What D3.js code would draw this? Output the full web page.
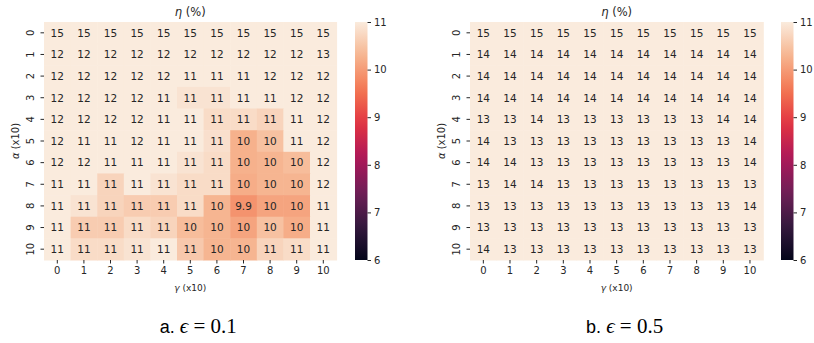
<!DOCTYPE html>
<html>
<head>
<meta charset="utf-8">
<script src="https://cdn.jsdelivr.net/npm/d3@7"></script>
<style>
  body { margin: 0; background: #fff; }
  svg { display: block; font-family: "DejaVu Sans", sans-serif; }
  .serif { font-family: "Liberation Serif", "DejaVu Serif", serif; }
</style>
</head>
<body>
<div id="chart"></div>
<script>
// grid labels (alpha rows, gamma columns, both x10)
const alphaLabels = d3.range(0, 11);
const gammaLabels = d3.range(0, 11);
const cbarTicks = [6, 7, 8, 9, 10, 11];

// eta (%) for epsilon = 0.1, estimated from cell text + colour
const etaA = [
  [15, 15, 15, 15, 15, 15, 15, 15, 15, 15, 15],
  [12, 12, 12, 12, 12, 12, 12, 12, 12, 12, 13],
  [12, 12, 12, 12, 12, 11.2, 11.1, 11.1, 11.6, 11.7, 12],
  [12, 12, 12, 12, 11.2, 10.9, 10.9, 11.1, 11.2, 11.6, 12],
  [12, 12, 12, 12, 11.1, 11.0, 10.8, 10.8, 10.7, 11.2, 12],
  [12, 11.3, 11.3, 12, 11.2, 11.1, 10.85, 10.25, 10.45, 11.2, 12],
  [12, 12, 11.1, 11.1, 11.1, 10.9, 10.8, 10.25, 10.3, 10.4, 12],
  [11.1, 11.1, 10.7, 11.1, 10.9, 10.8, 10.8, 10.2, 10.3, 10.3, 12],
  [11.1, 10.9, 10.7, 10.6, 10.6, 10.8, 10.3, 9.9, 10.1, 10.1, 11.2],
  [11.1, 10.6, 10.6, 10.8, 10.7, 10.4, 10.3, 10.1, 10.45, 10.2, 11.1],
  [11.1, 10.8, 10.8, 10.9, 11.0, 10.55, 10.3, 10.3, 10.7, 10.8, 11.1]
];

// eta (%) for epsilon = 0.5
const etaB = [
  [15, 15, 15, 15, 15, 15, 15, 15, 15, 15, 15],
  [14, 14, 14, 14, 14, 14, 14, 14, 14, 14, 14],
  [14, 14, 14, 14, 14, 14, 14, 14, 14, 14, 14],
  [14, 14, 14, 14, 14, 14, 14, 14, 14, 14, 14],
  [13, 13, 14, 13, 13, 13, 13, 13, 13, 14, 14],
  [14, 13, 13, 13, 13, 13, 13, 13, 13, 13, 14],
  [14, 14, 13, 13, 13, 13, 13, 13, 13, 13, 14],
  [13, 14, 14, 13, 13, 13, 13, 13, 13, 13, 13],
  [13, 13, 13, 13, 13, 13, 13, 13, 13, 13, 14],
  [13, 13, 13, 13, 13, 13, 13, 13, 13, 13, 13],
  [14, 13, 13, 13, 13, 13, 13, 13, 13, 13, 13]
];

const width = 814;
const height = 343;

// seaborn "rocket" colormap stops
const rocketStops = [0, 1/7, 2/7, 3/7, 4/7, 5/7, 6/7, 1];
const rocketColors = ["#03051a", "#35193e", "#701f57", "#ad1759", "#e13342", "#f37651", "#f6b48f", "#faebdd"];
const rocket = d3.scaleLinear().domain(rocketStops).range(rocketColors).interpolate(d3.interpolateRgb);
const color = v => rocket(Math.max(0, Math.min(1, (v - 6) / 5)));

const svg = d3.select("#chart").append("svg")
  .attr("width", width)
  .attr("height", height);

// gradient for colorbars
const grad = svg.append("defs").append("linearGradient")
  .attr("id", "rocketGrad")
  .attr("x1", 0).attr("y1", 1).attr("x2", 0).attr("y2", 0);
d3.range(0, 1.0001, 0.05).forEach(t => {
  grad.append("stop").attr("offset", t).attr("stop-color", rocket(t));
});

const fmt = d3.format(".2g");

function drawPanel(data, left, right, cbarX, caption, epsText) {
  const top = 22, bottom = 260;
  const g = svg.append("g");

  const x = d3.scaleBand().domain(gammaLabels).range([left, right]);
  const y = d3.scaleBand().domain(alphaLabels).range([top, bottom]);

  const cells = data.flatMap((row, i) => row.map((v, j) => ({ i, j, v })));

  g.selectAll("rect.cell")
    .data(cells)
    .join("rect")
    .attr("class", "cell")
    .attr("x", d => x(d.j))
    .attr("y", d => y(d.i))
    .attr("width", x.bandwidth() + 0.5)
    .attr("height", y.bandwidth() + 0.5)
    .attr("fill", d => color(d.v));

  g.selectAll("text.annot")
    .data(cells)
    .join("text")
    .attr("class", "annot")
    .attr("x", d => x(d.j) + x.bandwidth() / 2)
    .attr("y", d => y(d.i) + y.bandwidth() / 2)
    .attr("dy", "0.36em")
    .attr("text-anchor", "middle")
    .attr("font-size", 10.5)
    .attr("fill", "#262626")
    .text(d => fmt(d.v));

  // x axis
  const xAxis = g.append("g")
    .attr("transform", `translate(0,${bottom})`)
    .call(d3.axisBottom(x).tickSize(3.5).tickPadding(3));
  xAxis.select(".domain").remove();
  xAxis.selectAll("text").attr("font-size", 10).attr("fill", "#262626").attr("font-family", "DejaVu Sans");
  xAxis.selectAll("line").attr("stroke", "#262626");

  // y axis, labels rotated
  const yAxis = g.append("g")
    .attr("transform", `translate(${left},0)`)
    .call(d3.axisLeft(y).tickSize(3.5).tickPadding(3));
  yAxis.select(".domain").remove();
  yAxis.selectAll("line").attr("stroke", "#262626");
  yAxis.selectAll("text")
    .attr("font-size", 10).attr("fill", "#262626").attr("font-family", "DejaVu Sans")
    .attr("x", null).attr("dy", null)
    .attr("text-anchor", "middle")
    .attr("transform", "translate(-14,0) rotate(-90) translate(0,3.5)");

  const cx = (left + right) / 2;

  // title
  const title = g.append("text")
    .attr("x", cx).attr("y", 16)
    .attr("text-anchor", "middle")
    .attr("font-size", 11.5)
    .attr("fill", "#262626");
  title.append("tspan").attr("font-style", "italic").text("η");
  title.append("tspan").text(" (%)");

  // x label
  const xl = g.append("text")
    .attr("x", cx).attr("y", 291)
    .attr("text-anchor", "middle")
    .attr("font-size", 9)
    .attr("fill", "#262626");
  xl.append("tspan").attr("font-style", "italic").text("γ");
  xl.append("tspan").text(" (x10)");

  // y label
  const yl = g.append("text")
    .attr("transform", `translate(${left - 25},${(top + bottom) / 2}) rotate(-90)`)
    .attr("text-anchor", "middle")
    .attr("font-size", 10)
    .attr("fill", "#262626");
  yl.append("tspan").attr("font-style", "italic").text("α");
  yl.append("tspan").text(" (x10)");

  // colorbar
  const cbW = 12.5;
  g.append("rect")
    .attr("x", cbarX).attr("y", top)
    .attr("width", cbW).attr("height", bottom - top)
    .attr("fill", "url(#rocketGrad)");
  const cScale = d3.scaleLinear().domain([6, 11]).range([bottom, top]);
  const cAxis = g.append("g")
    .attr("transform", `translate(${cbarX + cbW},0)`)
    .call(d3.axisRight(cScale).tickValues(cbarTicks).tickFormat(d3.format("d")).tickSize(3.5).tickPadding(3));
  cAxis.select(".domain").remove();
  cAxis.selectAll("line").attr("stroke", "#262626");
  cAxis.selectAll("text").attr("font-size", 10).attr("fill", "#262626").attr("font-family", "DejaVu Sans");

  // caption: "a." sans, epsilon part in serif math style
  const cap = g.append("text")
    .attr("x", cx + 8).attr("y", 333)
    .attr("text-anchor", "middle")
    .attr("font-size", 21)
    .attr("fill", "#000");
  cap.append("tspan").attr("font-family", "Liberation Sans").attr("font-size", 18).text(caption + " ");
  cap.append("tspan").attr("class", "serif").attr("font-style", "italic").text("ϵ");
  cap.append("tspan").attr("class", "serif").text(" = " + epsText);
}

drawPanel(etaA, 44, 336.6, 355, "a.", "0.1");
drawPanel(etaB, 470, 763.3, 781, "b.", "0.5");
</script>
</body>
</html>
